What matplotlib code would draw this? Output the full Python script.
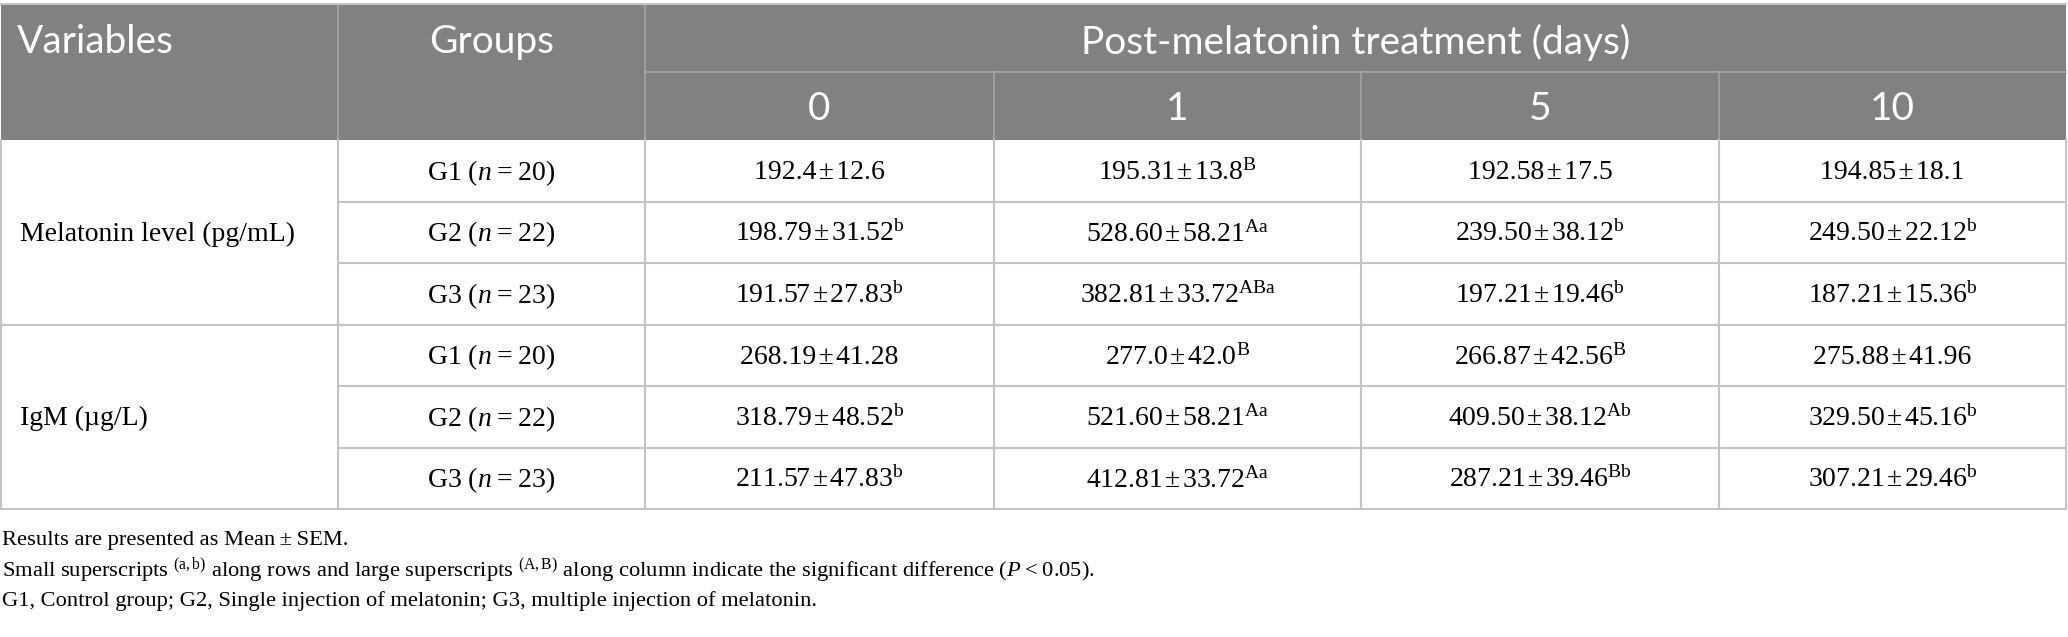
import matplotlib
matplotlib.use("Agg")
import matplotlib.pyplot as plt

plt.rcParams['mathtext.fontset'] = 'custom'
plt.rcParams['mathtext.rm'] = 'Liberation Serif'
plt.rcParams['mathtext.it'] = 'Liberation Serif:italic'
plt.rcParams['mathtext.bf'] = 'Liberation Serif:bold'

# table content
variables = ["Melatonin level (pg/mL)", "IgM (\u00b5g/L)"]
groups = ["G1", "G2", "G3"]
group_n = [20, 22, 23]
days = ["0", "1", "5", "10"]

mel_mean = [["192.4", "195.31", "192.58", "194.85"],
            ["198.79", "528.60", "239.50", "249.50"],
            ["191.57", "382.81", "197.21", "187.21"]]
mel_sem = [["12.6", "13.8", "17.5", "18.1"],
           ["31.52", "58.21", "38.12", "22.12"],
           ["27.83", "33.72", "19.46", "15.36"]]
mel_sup = [["", "B", "", ""],
           ["b", "Aa", "b", "b"],
           ["b", "ABa", "b", "b"]]

igm_mean = [["268.19", "277.0", "266.87", "275.88"],
            ["318.79", "521.60", "409.50", "329.50"],
            ["211.57", "412.81", "287.21", "307.21"]]
igm_sem = [["41.28", "42.0", "42.56", "41.96"],
           ["48.52", "58.21", "38.12", "45.16"],
           ["47.83", "33.72", "39.46", "29.46"]]
igm_sup = [["", "B", "B", ""],
           ["b", "Aa", "Ab", "b"],
           ["b", "Aa", "Bb", "b"]]

notes = ["Results are presented as Mean\u2009\u00b1\u2009SEM.",
         "Small superscripts $^{(\\mathrm{a,b})}$ along rows and large superscripts $^{(\\mathrm{A,B})}$"
         " along column indicate the significant difference ($P$\u2009<\u20090.05).",
         "G1, Control group; G2, Single injection of melatonin; G3, multiple injection of melatonin."]

W, H = 2068, 637
fig = plt.figure(figsize=(W / 100, H / 100), dpi=100)
ax = fig.add_axes([0, 0, 1, 1])
ax.set_xlim(0, W)
ax.set_ylim(H, 0)
ax.axis('off')

col_x = [1, 338, 645, 994, 1361, 1719, 2066]
top, mid, hdr_bot = 4, 72, 140
row_h = 61.5
n_rows = 6
bot = hdr_bot + n_rows * row_h

head_gray = '#808180'
head_line = '#a3a3a3'
grid = '#c4c4c4'
sans = ['Lato', 'DejaVu Sans']
serif = ['Liberation Serif', 'DejaVu Serif']
hfs = 28
bfs = 20

# header block
ax.fill_between([col_x[0], col_x[-1]], top, hdr_bot, color=head_gray, lw=0)
ax.plot([col_x[2], col_x[-1]], [mid, mid], color=head_line, lw=1.2)
for x in col_x[1:3]:
    ax.plot([x, x], [top, hdr_bot], color=head_line, lw=1.2)
for x in col_x[3:-1]:
    ax.plot([x, x], [mid, hdr_bot], color=head_line, lw=1.2)
ax.plot([col_x[0], col_x[-1]], [top, top], color=grid, lw=1.5)

ax.text(17, (top + mid) / 2 + 4, "Variables", color='white', fontsize=hfs,
        family=sans, ha='left', va='center')
ax.text((col_x[1] + col_x[2]) / 2, (top + mid) / 2 + 4, "Groups", color='white',
        fontsize=hfs, family=sans, ha='center', va='center')
ax.text((col_x[2] + col_x[-1]) / 2, (top + mid) / 2 + 4, "Post-melatonin treatment (days)",
        color='white', fontsize=hfs, family=sans, ha='center', va='center')
for j, d in enumerate(days):
    ax.text((col_x[j + 2] + col_x[j + 3]) / 2, (mid + hdr_bot) / 2 + 3, d, color='white',
            fontsize=hfs, family=sans, ha='center', va='center')

# body grid
for i in range(1, n_rows + 1):
    y = hdr_bot + i * row_h
    x0 = col_x[0] if i in (3, 6) else col_x[1]
    ax.plot([x0, col_x[-1]], [y, y], color=grid, lw=1.5)
for x in col_x:
    ax.plot([x, x], [hdr_bot, bot], color=grid, lw=1.5)

# body text
blocks = [(mel_mean, mel_sem, mel_sup), (igm_mean, igm_sem, igm_sup)]
for b, (means, sems, sups) in enumerate(blocks):
    y_block = hdr_bot + (b * 3 + 1.5) * row_h + 2
    ax.text(20, y_block, variables[b], fontsize=bfs, family=serif, ha='left', va='center')
    for i in range(3):
        yc = hdr_bot + (b * 3 + i + 0.5) * row_h + 2
        ax.text((col_x[1] + col_x[2]) / 2, yc, f"{groups[i]} ($n$\u2009=\u2009{group_n[i]})",
                fontsize=bfs, family=serif, ha='center', va='center')
        for j in range(4):
            s = f"{means[i][j]}\u200a\u00b1\u200a{sems[i][j]}"
            if sups[i][j]:
                s += r"$^{\mathrm{" + sups[i][j] + "}}$"
            ax.text((col_x[j + 2] + col_x[j + 3]) / 2, yc, s, fontsize=bfs,
                    family=serif, ha='center', va='center')

# footnotes
for k, note in enumerate(notes):
    ax.text(2, 540 + k * 30.5, note, fontsize=16.2, family=serif, ha='left', va='center')

fig.savefig("out.png", dpi=100)
